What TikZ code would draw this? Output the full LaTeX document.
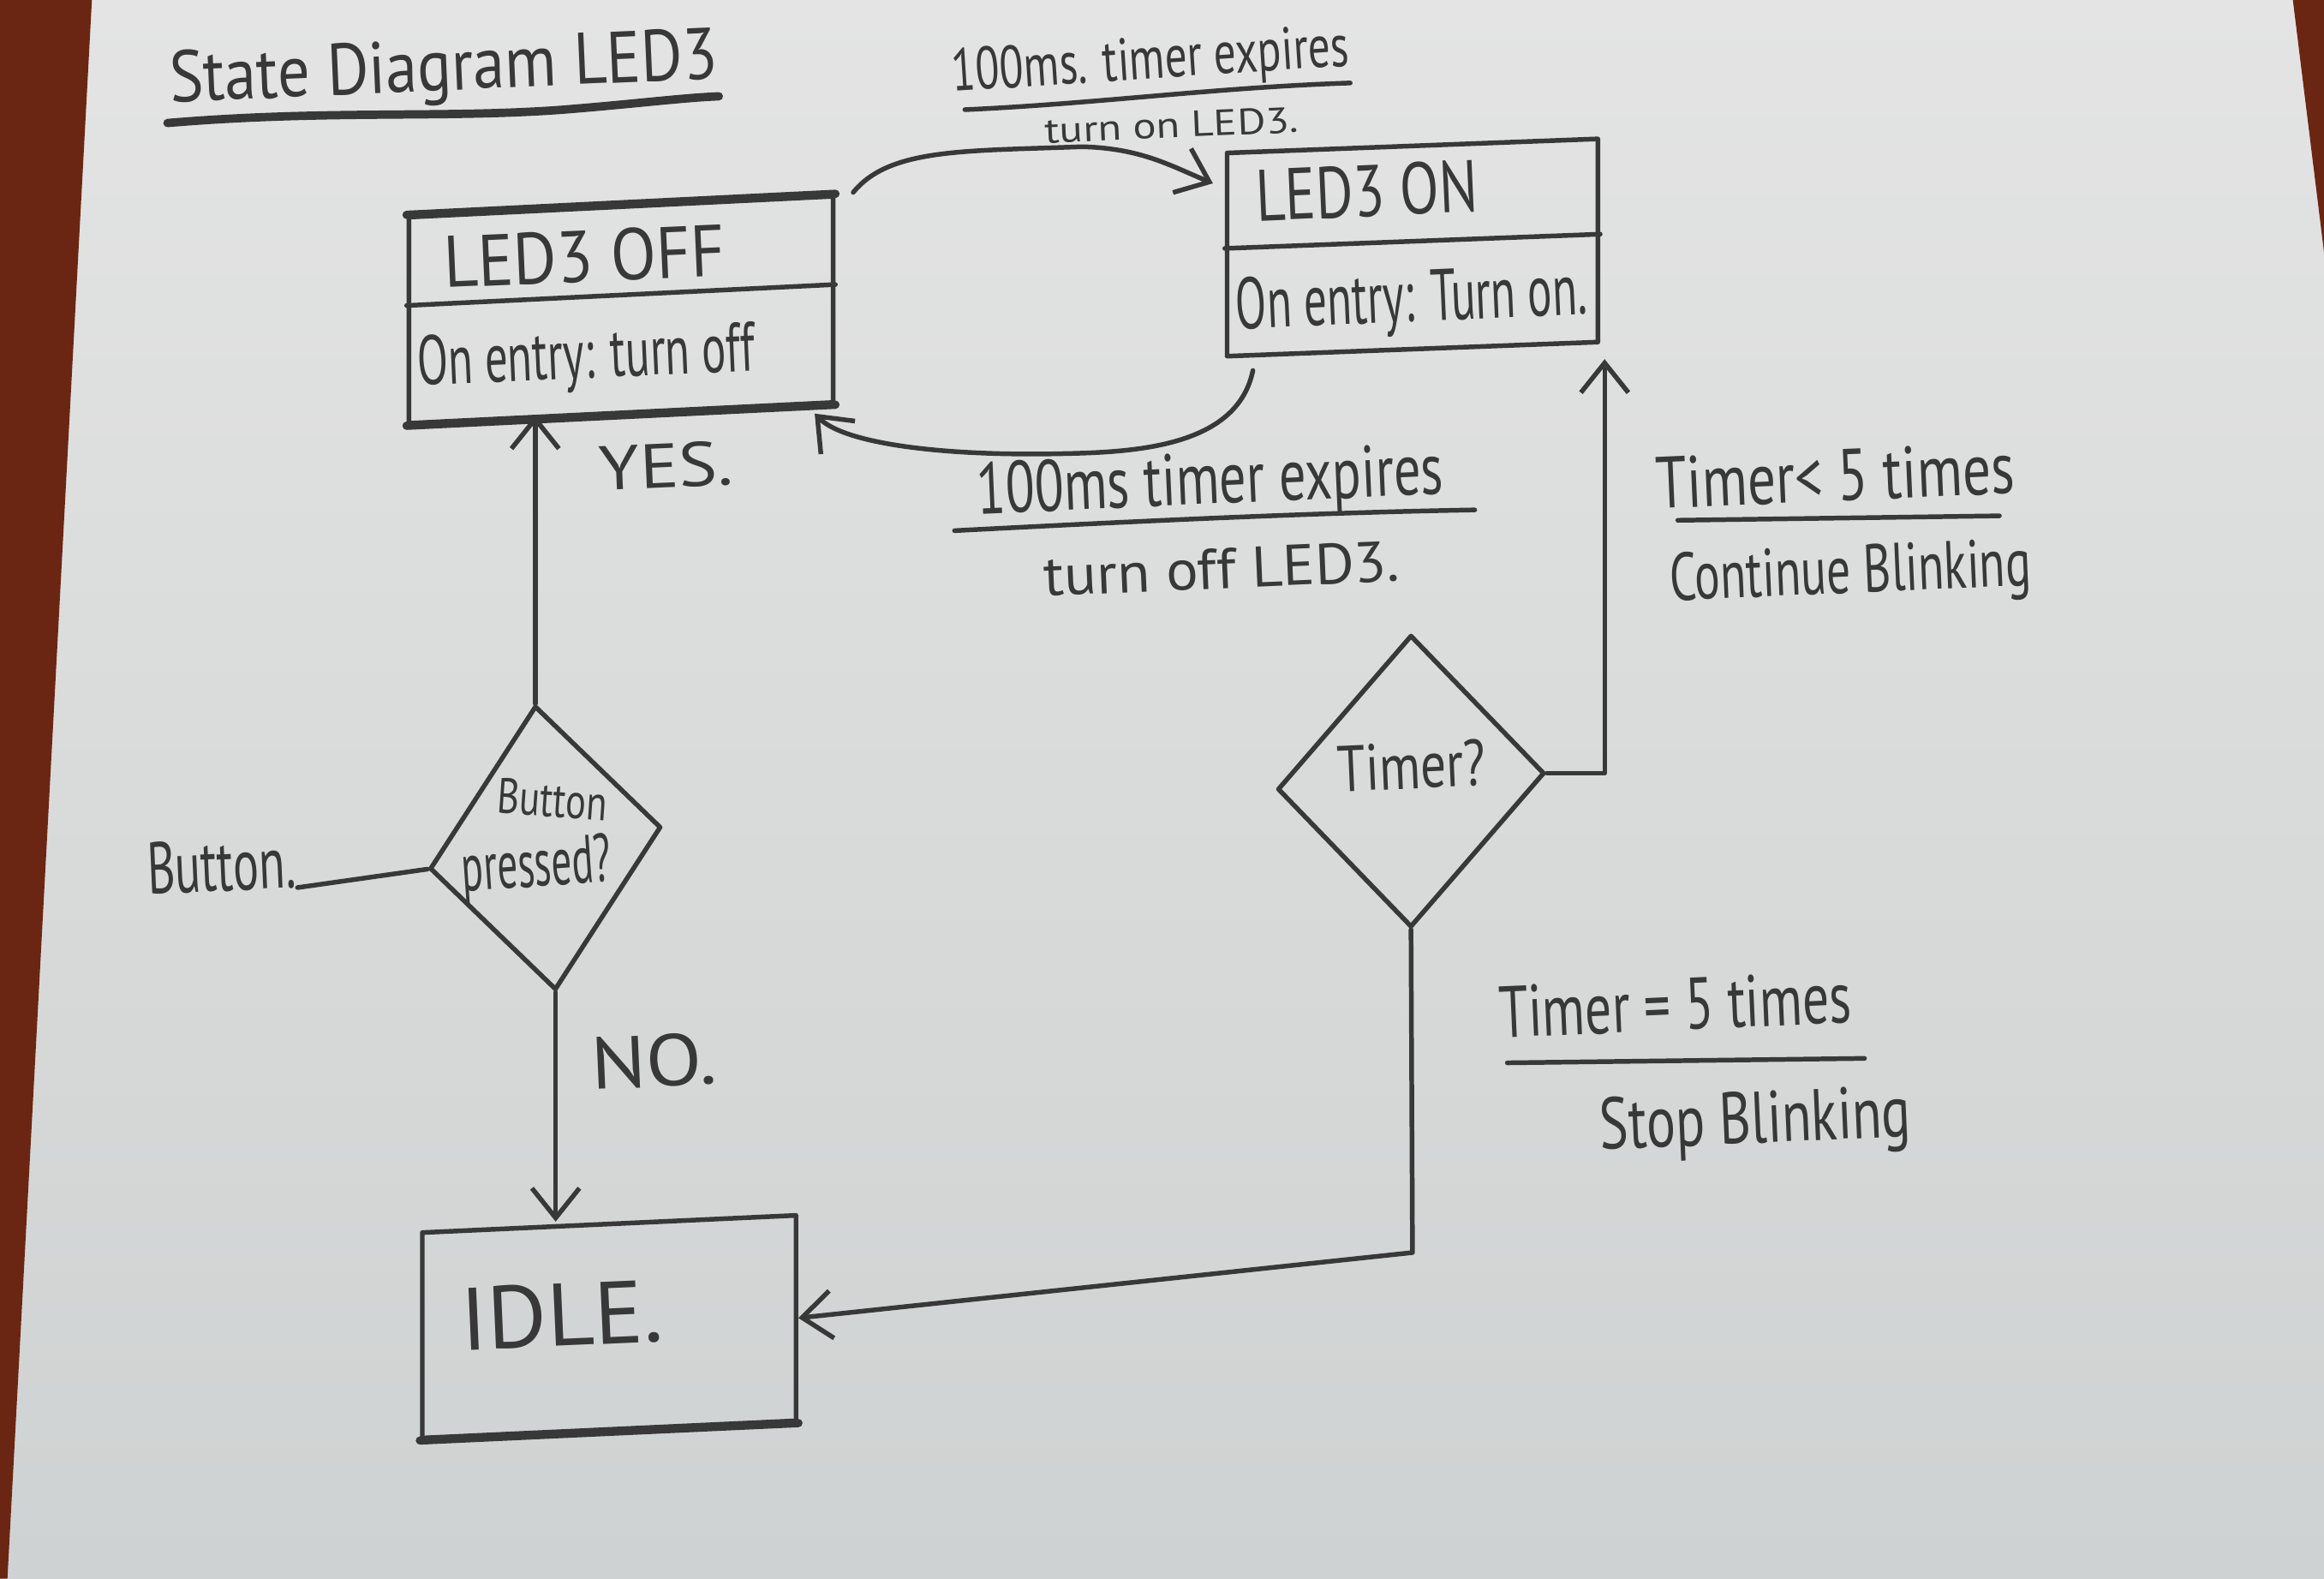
\documentclass[tikz,border=0pt]{standalone}
\usepackage{fontspec}
\setmainfont{PT Sans}
\usetikzlibrary{shapes.geometric,arrows.meta,calc}
\definecolor{paperlt}{HTML}{E3E4E3}
\definecolor{paperdk}{HTML}{CFD2D2}
\definecolor{wood}{HTML}{6B2613}
\definecolor{pencil}{HTML}{383838}
\newcommand{\hw}[2]{\resizebox{#1}{\height}{#2}}
\newcommand{\fs}[1]{\fontsize{#1}{#1}\selectfont}
\begin{document}
\begin{tikzpicture}[x=0.01cm,y=-0.01cm,
  pen/.style={draw=pencil,line width=0.9pt,line cap=round,line join=round},
  thickpen/.style={pen,line width=1.6pt},
  arr/.style={pen,-{Straight Barb[length=0.2cm,width=0.32cm,line width=0.9pt]}},
  lbl/.style={text=pencil,inner sep=0pt,anchor=base,rotate=2.5},
  state/.style={pen,rectangle,inner sep=0pt},
  choice/.style={pen,diamond,inner sep=0pt}
]
% background: paper on a wooden table
\shade[top color=paperlt,bottom color=paperdk] (0,0) rectangle (1568,1065);
\useasboundingbox (0,0) rectangle (1568,1065);
\fill[wood] (0,0) -- (62,0) -- (5,1065) -- (0,1065) -- cycle;
\fill[wood] (1547,0) -- (1568,0) -- (1568,170) -- cycle;

% title
\node[lbl,font=\fs{14}] (title) at (300,61) {\hw{3.70cm}{State Diagram LED3}};
\draw[thickpen] (113,83) .. controls (220,74) and (300,80) .. (380,74) .. controls (430,70) and (460,66) .. (485,65);

% states
\node[state,minimum width=2.86cm,minimum height=1.39cm,yslant=0.049] (off) at (419,209) {};
\draw[thickpen] (off.north west) -- (off.north east);
\draw[thickpen] (off.south west) -- (off.south east);
\draw[pen] ($(off.north west)!0.43!(off.south west)$) -- ($(off.north east)!0.43!(off.south east)$);
\node[lbl,font=\fs{14}] (offname) at (395,190) {\hw{1.90cm}{LED3 OFF}};
\node[lbl,font=\fs{13.4}] (offentry) at (396,255) {\hw{2.28cm}{On entry: turn off}};

\node[state,minimum width=2.50cm,minimum height=1.37cm,yslant=0.038] (on) at (953,167) {};
\draw[pen] ($(on.north west)!0.47!(on.south west)$) -- ($(on.north east)!0.47!(on.south east)$);
\node[lbl,font=\fs{14}] (onname) at (923,146) {\hw{1.50cm}{LED3 ON}};
\node[lbl,font=\fs{14}] (onentry) at (953,217) {\hw{2.37cm}{On entry: Turn on.}};

\node[state,minimum width=2.52cm,minimum height=1.385cm,yslant=0.046] (idle) at (411,895) {};
\draw[thickpen] (idle.south west) -- (idle.south east);
\node[lbl,font=\fs{17}] (idletxt) at (380,908) {\hw{1.36cm}{IDLE.}};

% decisions
\node[choice,minimum width=1.56cm,minimum height=1.94cm,yslant=0.18,xslant=-0.07] (btn) at (368,572) {};
\node[lbl,font=\fs{9.5},rotate=-6.5] (btntxt1) at (372,551) {\hw{0.74cm}{Button}};
\node[lbl,font=\fs{13},rotate=1.5] (btntxt2) at (363,598) {\hw{1.01cm}{pressed?}};

\node[choice,minimum width=1.80cm,minimum height=1.97cm,yslant=0.06] (timer) at (952,527) {};
\node[lbl,font=\fs{12.5}] (timertxt) at (953,532) {\hw{1.00cm}{Timer?}};

% button input
\node[lbl,font=\fs{14}] (btnlbl) at (150,601) {\hw{1.00cm}{Button.}};
\draw[pen] (btnlbl.base east) -- (btn.west);

% transitions
\draw[arr] ([shift={(12,-1)}]off.north east) .. controls (600,100) and (650,102) .. (730,99)
  .. controls (770,100) and (790,112) .. ([shift={(-8,22)}]on.north west);
\node[lbl,font=\fs{11.5},rotate=1.2] (t1a) at (777,53) {\hw{2.68cm}{100ms. timer expires}};
\draw[pen] (651,74) .. controls (740,70) and (820,59) .. (911,56);
\node[lbl,font=\fs{7},rotate=0] (t1b) at (791,93) {\hw{1.71cm}{turn on LED3.}};

\draw[arr] ([shift={(19,8)}]on.south west) .. controls (835,300) and (770,305) .. (719,306)
  .. controls (640,308) and (570,300) .. ([shift={(-14,6)}]off.south east);
\node[lbl,font=\fs{14}] (t2a) at (817,340) {\hw{3.15cm}{100ms timer expires}};
\draw[pen] (644,358) .. controls (760,352) and (880,346) .. (995,344);
\node[lbl,font=\fs{11}] (t2b) at (825,397) {\hw{2.40cm}{turn off LED3.}};

\draw[arr] (btn.north) -- (btn.north |- off.south);
\node[lbl,font=\fs{12}] (yes) at (450,329) {\hw{0.90cm}{YES.}};

\draw[arr] (btn.south) -- (btn.south |- idle.north);
\node[lbl,font=\fs{14}] (no) at (442,733) {\hw{0.85cm}{NO.}};

\draw[arr] (timer.east) -| ([xshift=0.03cm,yshift=-0.1cm]on.south east);
\node[lbl,font=\fs{14}] (t3a) at (1239,338) {\hw{2.42cm}{Timer< 5 times}};
\draw[pen] (1132,351) -- (1349,348);
\node[lbl,font=\fs{13}] (t3b) at (1249,400) {\hw{2.44cm}{Continue Blinking}};

\coordinate (bend) at (953,845);
\draw[arr] (timer.south) -- (bend) -- (idle.east);
\node[lbl,font=\fs{14}] (t4a) at (1131,695) {\hw{2.38cm}{Timer = 5 times}};
\draw[pen] (1017,717) -- (1258,714);
\node[lbl,font=\fs{14}] (t4b) at (1185,771) {\hw{2.10cm}{Stop Blinking}};
\end{tikzpicture}
\end{document}
